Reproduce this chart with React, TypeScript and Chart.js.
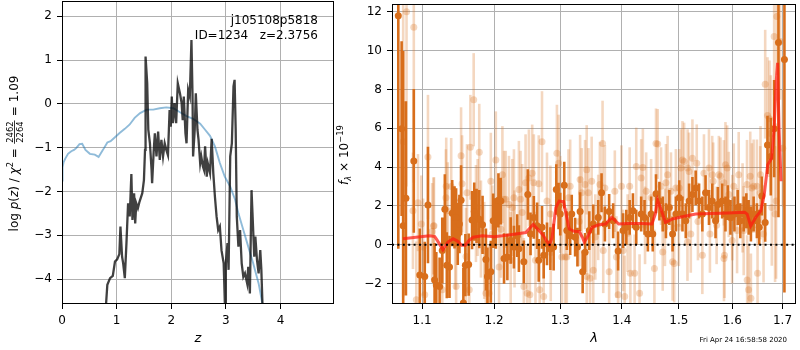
import React, { useEffect, useRef } from 'react';
import { Chart, registerables } from 'chart.js';

Chart.register(...registerables);

const FONT = "'DejaVu Sans', sans-serif";

// ---------------- left panel: log p(z) ----------------
const Z_PZ = [0.77, 0.806, 0.83, 0.88, 0.93, 0.97, 1.01, 1.05, 1.07, 1.10, 1.12, 1.15, 1.18, 1.21, 1.24, 1.27, 1.29, 1.32, 1.34, 1.36, 1.39, 1.42, 1.47, 1.50, 1.52, 1.53, 1.56, 1.58, 1.61, 1.64, 1.65, 1.68, 1.70, 1.73, 1.76, 1.79, 1.82, 1.85, 1.88, 1.91, 1.94, 1.97, 1.99, 2.01, 2.03, 2.06, 2.09, 2.12, 2.16, 2.19, 2.21, 2.23, 2.26, 2.28, 2.31, 2.34, 2.37, 2.39, 2.40, 2.43, 2.45, 2.48, 2.50, 2.53, 2.55, 2.58, 2.60, 2.62, 2.65, 2.67, 2.71, 2.74, 2.77, 2.80, 2.83, 2.86, 2.89, 2.92, 2.96, 2.99, 3.00, 3.03, 3.05, 3.08, 3.11, 3.14, 3.16, 3.18, 3.20, 3.23, 3.26, 3.29, 3.32, 3.35, 3.39, 3.41, 3.44, 3.47, 3.49, 3.52, 3.54, 3.57, 3.60, 3.63, 3.65, 3.67, 3.69];
const LOG_PZ = [-5.2, -4.58, -4.13, -3.98, -3.93, -3.60, -3.55, -3.43, -2.80, -3.49, -3.64, -3.98, -3.18, -2.27, -2.57, -1.60, -2.65, -2.04, -2.73, -2.27, -2.38, -2.23, -2.04, -1.74, -1.05, 1.08, 0.47, -0.59, -0.90, -1.51, -1.81, -1.05, -0.67, -1.20, -0.63, -1.28, -0.82, -1.20, -0.90, -1.05, -1.17, -0.14, -0.52, 0.17, -0.44, 0.02, -0.44, 0.47, 0.24, 0.02, -0.37, 0.17, -0.67, -0.90, 0.32, 0.17, 1.46, 0.17, -1.20, -0.59, 0.24, -0.59, -0.82, -1.36, -1.20, -1.43, -1.51, -0.97, -1.66, -1.36, -1.58, -0.80, -1.58, -2.12, -2.57, -2.88, -2.80, -3.34, -3.64, -4.9, -3.64, -3.18, -3.79, -1.20, -0.90, 0.40, 0.55, -0.59, -2.57, -3.26, -2.88, -3.64, -3.95, -3.87, -4.10, -3.72, -4.33, -1.97, -2.57, -3.49, -3.03, -3.56, -3.87, -3.34, -3.79, -4.57, -5.2];

const Z_PRIOR = [0.0, 0.01, 0.03, 0.06, 0.11, 0.17, 0.22, 0.26, 0.32, 0.37, 0.43, 0.51, 0.60, 0.67, 0.75, 0.83, 0.89, 0.97, 1.06, 1.15, 1.24, 1.33, 1.43, 1.55, 1.67, 1.79, 1.91, 2.04, 2.16, 2.28, 2.40, 2.53, 2.62, 2.71, 2.80, 2.89, 2.98, 3.08, 3.17, 3.23, 3.32, 3.41, 3.50, 3.60, 3.67, 3.70];
const LOG_PRIOR = [-1.75, -1.45, -1.33, -1.25, -1.14, -1.08, -1.05, -1.01, -0.92, -0.91, -1.05, -1.14, -1.16, -1.21, -1.05, -0.88, -0.85, -0.76, -0.66, -0.57, -0.47, -0.32, -0.21, -0.13, -0.13, -0.10, -0.08, -0.10, -0.19, -0.28, -0.34, -0.45, -0.59, -0.73, -0.97, -1.35, -1.66, -1.89, -2.19, -2.50, -2.88, -3.26, -3.64, -4.10, -4.57, -4.85];

const PZ_X_TICKS = [0, 1, 2, 3, 4];
const PZ_Y_TICKS = [-4, -3, -2, -1, 0, 1, 2];
const PZ_X_RANGE = [0, 4.98];
const PZ_Y_RANGE = [-4.57, 2.35];

const OBJ_NAME = 'j105108p5818';
const OBJ_INFO = 'ID=1234   z=2.3756';
const CHI2_NUM = '2462';
const CHI2_DEN = '2264';
const CHI2_RED = '1.09';

// ---------------- right panel: spectrum ----------------
const WAVE_OBS = [1.0689, 1.0732, 1.0752, 1.0788, 1.0891, 1.0970, 1.1036, 1.1079, 1.1168, 1.1191, 1.1236, 1.1272, 1.1307, 1.1334, 1.1371, 1.1408, 1.1440, 1.1462, 1.1485, 1.1508, 1.1531, 1.1563, 1.1591, 1.1637, 1.1685, 1.1716, 1.1749, 1.1787, 1.1834, 1.1882, 1.1904, 1.1953, 1.1987, 1.2025, 1.2063, 1.2098, 1.2145, 1.2194, 1.2243, 1.2291, 1.2340, 1.2365, 1.2439, 1.2499, 1.2540, 1.2590, 1.2640, 1.2665, 1.2715, 1.2741, 1.2792, 1.2844, 1.2895, 1.2936, 1.2972, 1.2998, 1.3061, 1.3102, 1.3155, 1.3180, 1.3234, 1.3271, 1.3314, 1.3355, 1.3394, 1.3462, 1.3527, 1.3608, 1.3663, 1.3718, 1.3789, 1.3856, 1.3939, 1.4023, 1.4078, 1.4135, 1.4191, 1.4248, 1.4333, 1.4391, 1.4449, 1.4506, 1.4535, 1.4592, 1.4652, 1.4711, 1.4768, 1.4829, 1.4887, 1.4946, 1.5007, 1.5066, 1.5126, 1.5187, 1.5248, 1.5308, 1.5371, 1.5432, 1.5492, 1.5556, 1.5617, 1.5680, 1.5724, 1.5806, 1.5869, 1.5914, 1.5965, 1.6042, 1.6106, 1.6156, 1.6222, 1.6274, 1.6319, 1.6364, 1.6418, 1.6483, 1.6529, 1.6582, 1.6649, 1.6695, 1.6762, 1.6830, 1.6918, 1.7040];
const FLUX_OBS = [11.8, 5.98, 0.98, 2.39, 4.32, -1.56, -1.64, 2.05, -1.81, -2.07, -2.15, -0.29, 1.83, -1.05, -1.14, 1.63, 1.41, 1.41, 0.56, 1.07, 2.29, -3.0, -1.05, -1.02, 1.27, 1.71, 1.49, 1.32, 1.03, -0.76, -1.64, -1.39, 1.24, 1.10, 2.29, 2.25, -0.71, -0.63, 0.22, -0.12, 0.47, -0.20, -0.88, 2.59, 0.56, 1.41, 0.98, -0.80, 0.90, -0.54, 0.05, -0.20, -0.12, 2.85, 2.00, 1.58, 3.07, 0.73, 0.47, 1.58, 0.39, -0.12, 1.71, -1.39, -0.39, 0.73, 1.07, 1.41, 2.68, 1.07, 1.71, 1.24, -0.32, 0.73, 0.90, 1.41, 1.75, 0.90, 1.58, 1.41, 0.56, 1.58, 0.56, 2.63, 2.25, 1.58, 1.24, 1.92, 0.56, 1.58, 2.42, 1.58, 1.24, 2.25, 2.59, 2.93, 2.25, 1.58, 2.68, 1.92, 2.25, 1.24, 2.08, 2.25, 1.58, 2.17, 1.41, 1.58, 1.92, 1.24, 1.58, 1.75, 1.41, 1.07, 1.58, 1.24, 0.90, 2.51, 1.15, 5.14, 4.54, 5.98, 10.42, 9.54];
const ERR_OBS = [12, 4.5, 9, 5, 3.7, 2.4, 1.8, 3.0, 1.9, 1.7, 1.5, 1.7, 1.8, 1.7, 1.6, 1.7, 1.6, 1.5, 1.6, 1.5, 1.8, 1.8, 1.6, 1.6, 1.5, 1.5, 1.4, 1.5, 1.5, 1.6, 1.5, 1.6, 1.4, 1.3, 1.4, 1.2, 1.3, 1.2, 1.2, 1.1, 1.1, 1.2, 1.1, 1.3, 1.1, 1.1, 1.2, 1.1, 1.1, 1.2, 1.1, 1.1, 1.2, 1.3, 1.2, 1.1, 1.2, 1.0, 1.0, 1.0, 1.0, 1.0, 1.0, 1.1, 1.0, 1.0, 1.0, 0.9, 1.0, 0.9, 0.9, 0.9, 1.0, 0.9, 0.9, 0.9, 0.9, 0.9, 0.9, 0.9, 0.9, 0.9, 0.9, 1.0, 1.0, 0.9, 0.9, 0.9, 0.9, 0.9, 0.9, 0.9, 0.9, 0.9, 0.9, 0.9, 0.9, 0.9, 0.9, 0.9, 0.9, 0.9, 0.9, 0.9, 0.9, 0.9, 0.9, 0.9, 0.9, 0.9, 0.9, 0.9, 0.9, 0.9, 0.9, 0.9, 0.9, 1.0, 1.0, 1.5, 2.0, 2.5, 9, 12];

const WAVE_RAW = [1.0752, 1.0796, 1.0880, 1.0891, 1.0924, 1.0946, 1.0990, 1.1014, 1.1036, 1.1079, 1.1135, 1.1153, 1.1160, 1.1272, 1.1322, 1.1326, 1.1346, 1.1394, 1.1450, 1.1462, 1.1531, 1.1545, 1.1600, 1.1614, 1.1646, 1.1661, 1.1708, 1.1740, 1.1764, 1.1787, 1.1811, 1.1858, 1.1882, 1.1928, 1.1953, 1.1975, 1.2025, 1.2072, 1.2100, 1.2121, 1.2145, 1.2170, 1.2218, 1.2243, 1.2267, 1.2291, 1.2300, 1.2365, 1.2390, 1.2414, 1.2439, 1.2465, 1.2489, 1.2515, 1.2530, 1.2565, 1.2590, 1.2615, 1.2665, 1.2680, 1.2715, 1.2741, 1.2792, 1.2844, 1.2850, 1.2946, 1.2972, 1.2998, 1.3024, 1.3075, 1.3102, 1.3128, 1.3155, 1.3300, 1.3314, 1.3339, 1.3394, 1.3420, 1.3421, 1.3448, 1.3475, 1.3501, 1.3527, 1.3560, 1.3608, 1.3636, 1.3680, 1.3691, 1.3718, 1.3789, 1.3884, 1.3911, 1.3939, 1.3995, 1.4023, 1.4050, 1.4100, 1.4135, 1.4147, 1.4220, 1.4248, 1.4305, 1.4333, 1.4362, 1.4400, 1.4420, 1.4506, 1.4564, 1.4592, 1.4622, 1.4681, 1.4711, 1.4750, 1.4768, 1.4798, 1.4858, 1.4887, 1.4916, 1.4946, 1.5000, 1.5007, 1.5037, 1.5066, 1.5096, 1.5157, 1.5160, 1.5187, 1.5218, 1.5248, 1.5328, 1.5350, 1.5432, 1.5462, 1.5556, 1.5574, 1.5617, 1.5636, 1.5700, 1.5743, 1.5774, 1.5838, 1.5840, 1.5850, 1.5869, 1.5901, 1.5933, 1.5997, 1.6000, 1.6029, 1.6093, 1.6125, 1.6200, 1.6222, 1.6287, 1.6290, 1.6319, 1.6351, 1.6364, 1.6384, 1.6418, 1.6483, 1.6496, 1.6549, 1.6555, 1.6616, 1.6649, 1.6695, 1.6735, 1.6762, 1.6783, 1.6830, 1.6849, 1.6870, 1.6884, 1.6952, 1.7006];
const FLUX_RAW = [5.3, 12.0, 1.75, 11.2, -2.83, 2.17, 1.07, -0.12, -2.58, 4.52, 0.68, 0.97, 0.98, -2.32, 2.42, 3.02, 1.75, 3.0, 0.2, -2.15, 4.58, 3.14, -0.6, 2.68, -2.32, 5.02, 7.47, 1.61, 1.92, 4.76, 0.81, -0.29, -2.49, -2.49, 3.27, 0.56, 4.37, -1.14, 0.8, 3.61, 2.34, 2.34, 2.08, -0.80, 1.92, 2.42, 0.3, 2.85, 2.34, 1.66, -2.15, 3.19, -2.49, 3.44, -2.58, 3.69, 3.19, -0.80, 3.14, -2.32, 5.31, -2.66, 2.25, 1.58, -0.4, 4.71, 4.20, 2.08, -0.63, -0.63, -0.63, 2.42, 3.02, 1.2, 3.36, 2.68, 3.10, 3.86, -1.64, 2.68, -1.73, 3.27, -1.31, 0.4, 1.41, 3.10, 5.22, -0.29, 2.93, -1.39, 2.76, -0.63, -2.58, 3.02, -0.29, -2.66, 0.6, 3.02, -1.47, -1.47, 4.03, -2.49, 3.44, 3.98, 1.0, 2.76, 2.42, -1.22, 5.22, 5.19, 3.02, -0.37, 0.9, 3.19, 3.61, 2.76, -0.88, -0.97, 2.93, 0.9, 2.93, 3.95, 4.37, 4.29, 0.14, 3.95, 3.78, 0.56, 4.46, 4.20, 1.2, -0.54, 3.69, 3.95, 0.56, 3.61, 3.27, 1.0, 3.61, 3.53, 3.19, -0.71, -0.54, 4.12, 3.95, 2.59, 0.22, 1.4, 3.02, 0.73, 3.61, 1.9, 0.73, 3.10, -1.81, -2.32, 3.53, -2.75, 2.93, 3.02, 3.02, -1.47, 2.68, 3.61, 0.56, 8.27, 6.66, 6.49, 5.73, 1.92, 10.73, 1.58, 2.25, 11.75, 10.47, 4.97];
const ERR_RAW = [8, 9, 3, 8, 3, 2.5, 2.5, 2.5, 2.5, 3.2, 2.5, 2.5, 2.5, 2.5, 2.5, 2.5, 2.5, 2.5, 2.5, 2.5, 2.5, 2.5, 2.5, 2.5, 2.5, 2.7, 2.4, 2.5, 2.5, 2.5, 2.5, 2.5, 2.5, 2.5, 2.5, 2.5, 2.5, 2.5, 2.5, 2.5, 2.5, 2.5, 2.5, 2.5, 2.5, 2.5, 2.5, 2.5, 2.5, 2.5, 2.5, 2.5, 2.5, 2.5, 2.5, 2.5, 2.5, 2.5, 2.5, 2.5, 2.6, 2.5, 2.5, 2.5, 2.5, 2.5, 2.5, 2.5, 2.5, 2.5, 2.5, 2.5, 2.4, 2.3, 2.3, 2.3, 2.3, 2.3, 2.3, 2.3, 2.3, 2.3, 2.2, 2.2, 2.2, 2.2, 2.2, 2.2, 2.2, 2.2, 2.1, 2.1, 2.1, 2.1, 2.1, 2.1, 2.0, 2.0, 2.0, 2.0, 2.0, 2.0, 2.0, 2.0, 2.0, 2.0, 2.0, 2.0, 1.8, 1.8, 2.0, 2.0, 2.0, 2.0, 2.0, 2.0, 2.0, 2.0, 2.0, 2.0, 2.0, 2.0, 2.0, 2.0, 2.0, 2.0, 2.0, 2.0, 2.0, 2.0, 2.0, 2.0, 2.0, 2.0, 2.0, 2.0, 2.0, 2.0, 2.0, 2.0, 2.2, 2.2, 2.2, 2.2, 2.2, 2.2, 2.2, 2.2, 2.2, 2.2, 2.2, 2.3, 2.3, 2.3, 2.3, 2.3, 2.3, 2.3, 2.3, 2.4, 2.4, 2.4, 2.4, 2.5, 2.5, 2.8, 3, 3, 3, 3, 3, 3.5, 4, 3, 3, 3];

const WAVE_MODEL = [1.075, 1.092, 1.11, 1.117, 1.12, 1.128, 1.135, 1.142, 1.148, 1.154, 1.159, 1.164, 1.17, 1.183, 1.20, 1.212, 1.232, 1.247, 1.252, 1.258, 1.265, 1.273, 1.278, 1.283, 1.287, 1.293, 1.298, 1.305, 1.309, 1.314, 1.322, 1.33, 1.335, 1.338, 1.343, 1.351, 1.362, 1.373, 1.378, 1.383, 1.389, 1.395, 1.411, 1.434, 1.452, 1.458, 1.462, 1.468, 1.476, 1.488, 1.506, 1.531, 1.561, 1.592, 1.624, 1.629, 1.636, 1.646, 1.656, 1.663, 1.670, 1.678, 1.683, 1.687, 1.690, 1.693, 1.697];
const FLUX_MODEL = [0.31, 0.39, 0.46, 0.42, 0.25, -0.25, 0.14, 0.31, 0.19, -0.03, -0.03, 0.22, 0.39, 0.46, 0.41, 0.46, 0.56, 0.63, 0.83, 1.05, 0.80, 0.51, 0.22, 0.0, 0.36, 1.92, 2.25, 2.22, 1.58, 0.81, 0.69, 0.68, 0.39, 0.14, 0.39, 0.90, 1.03, 1.07, 1.24, 1.41, 1.24, 1.07, 1.10, 1.10, 1.07, 1.58, 2.29, 1.83, 1.15, 1.32, 1.44, 1.58, 1.61, 1.64, 1.68, 1.58, 0.97, 1.41, 1.75, 2.59, 4.12, 4.46, 5.98, 8.36, 9.37, 5.98, 3.27];

const SPEC_X_TICKS = [1.1, 1.2, 1.3, 1.4, 1.5, 1.6, 1.7];
const SPEC_Y_TICKS = [-2, 0, 2, 4, 6, 8, 10, 12];
const SPEC_X_RANGE = [1.0608, 1.728];
const SPEC_Y_RANGE = [-3.05, 12.4];
const TIMESTAMP = 'Fri Apr 24 16:58:58 2020';

// ---------------- styles ----------------
const GRID = '#b0b0b0';
const PZ_COLOR = 'rgba(0,0,0,0.75)';
const PRIOR_COLOR = 'rgba(31,119,180,0.5)';
const DARK_ORANGE = 'rgb(216,110,27)';
const LIGHT_ORANGE = 'rgba(216,110,27,0.28)';
const MODEL_RED = 'rgba(255,25,15,0.72)';

type Pt = { x: number; y: number | null };
const zip = (xs: number[], ys: number[]): Pt[] => xs.map((x, i) => ({ x, y: ys[i] }));
const errSegments = (xs: number[], ys: number[], es: number[]): Pt[] => {
  const out: Pt[] = [];
  xs.forEach((x, i) => {
    out.push({ x, y: ys[i] - es[i] }, { x, y: ys[i] + es[i] }, { x, y: null });
  });
  return out;
};
const minusFmt = (v: any) => {
  const n = Number(v);
  return n < 0 ? '\u2212' + String(Math.abs(n)) : String(n);
};

type Run = { t?: string; italic?: boolean; scale?: number; dy?: number; num?: string; den?: string };
const fontStr = (size: number, italic?: boolean) => `${italic ? 'italic ' : ''}${size}px ${FONT}`;

function drawVerticalRich(ctx: CanvasRenderingContext2D, runs: Run[], bx: number, cy: number, base: number) {
  ctx.save();
  ctx.translate(bx, cy);
  ctx.rotate(-Math.PI / 2);
  ctx.fillStyle = '#000';
  ctx.textBaseline = 'alphabetic';
  const small = base * 0.7;
  const widths = runs.map((r) => {
    if (r.num !== undefined) {
      ctx.font = fontStr(small);
      return Math.max(ctx.measureText(r.num).width, ctx.measureText(r.den || '').width) + 3;
    }
    ctx.font = fontStr(base * (r.scale || 1), r.italic);
    return ctx.measureText(r.t || '').width;
  });
  const total = widths.reduce((a, b) => a + b, 0);
  let x = -total / 2;
  runs.forEach((r, i) => {
    const w = widths[i];
    if (r.num !== undefined) {
      ctx.font = fontStr(small);
      ctx.textAlign = 'center';
      ctx.fillText(r.num, x + w / 2, -base * 0.4);
      ctx.fillText(r.den || '', x + w / 2, base * 0.42);
      ctx.fillRect(x + 0.5, -base * 0.29 - 0.4, w - 1, 0.8);
    } else {
      ctx.font = fontStr(base * (r.scale || 1), r.italic);
      ctx.textAlign = 'left';
      ctx.fillText(r.t || '', x, r.dy || 0);
    }
    x += w;
  });
  ctx.restore();
}

function drawFrame(chart: any) {
  const { ctx, chartArea } = chart;
  const { left, top, right, bottom } = chartArea;
  ctx.save();
  ctx.strokeStyle = '#000';
  ctx.lineWidth = 1;
  ctx.strokeRect(Math.round(left) + 0.5, Math.round(top) + 0.5, Math.round(right - left) - 1, Math.round(bottom - top) - 1);
  ctx.restore();
}

const leftDecor = {
  id: 'leftDecor',
  afterDraw(chart: any) {
    drawFrame(chart);
    const { ctx, chartArea } = chart;
    drawVerticalRich(
      ctx,
      [
        { t: 'log ' },
        { t: 'p', italic: true },
        { t: '(' },
        { t: 'z', italic: true },
        { t: ') / ' },
        { t: '\u03c7', italic: true },
        { t: '2', scale: 0.7, dy: -5 },
        { t: ' = ' },
        { num: CHI2_NUM, den: CHI2_DEN },
        { t: ' = ' + CHI2_RED },
      ],
      18,
      (chartArea.top + chartArea.bottom) / 2 + 1,
      12
    );
    ctx.save();
    ctx.fillStyle = '#000';
    ctx.font = fontStr(12);
    ctx.textAlign = 'right';
    ctx.textBaseline = 'alphabetic';
    ctx.fillText(OBJ_NAME, 318, 24);
    ctx.fillText(OBJ_INFO, 318, 38.5);
    ctx.restore();
  },
};

const rightDecor = {
  id: 'rightDecor',
  afterDraw(chart: any) {
    drawFrame(chart);
    const { ctx, chartArea } = chart;
    drawVerticalRich(
      ctx,
      [
        { t: 'f', italic: true },
        { t: '\u03bb', italic: true, scale: 0.7, dy: 3 },
        { t: ' \u00d7 10' },
        { t: '\u221219', scale: 0.7, dy: -5 },
      ],
      12,
      (chartArea.top + chartArea.bottom) / 2 + 1,
      12
    );
    ctx.save();
    ctx.fillStyle = '#000';
    ctx.font = fontStr(7);
    ctx.textAlign = 'right';
    ctx.textBaseline = 'alphabetic';
    ctx.fillText(TIMESTAMP, 451, 342);
    ctx.restore();
  },
};

const tickFont = { family: FONT, size: 12 };
const titleFont = { family: FONT, size: 13, style: 'italic' as const };

function baseAxis(extra: any) {
  return {
    ticks: { font: tickFont, color: '#000', padding: 5, autoSkip: false, maxRotation: 0, minRotation: 0 },
    grid: { color: GRID, lineWidth: 1, tickLength: 5, tickColor: '#000', tickWidth: 1 },
    border: { display: false },
    ...extra,
  };
}

function LeftPanel() {
  const ref = useRef<HTMLCanvasElement>(null);
  useEffect(() => {
    const chart = new Chart(ref.current as HTMLCanvasElement, {
      type: 'scatter',
      data: {
        datasets: [
          { data: zip(Z_PZ, LOG_PZ), showLine: true, borderColor: PZ_COLOR, borderWidth: 2.3, pointRadius: 0, order: 1, clip: 0 } as any,
          { data: zip(Z_PRIOR, LOG_PRIOR), showLine: true, borderColor: PRIOR_COLOR, borderWidth: 1.9, pointRadius: 0, order: 2, clip: 0 } as any,
        ],
      },
      options: {
        responsive: false,
        animation: false,
        devicePixelRatio: 1,
        events: [],
        layout: { padding: { left: 0, right: 2, top: 1, bottom: 0 } },
        plugins: { legend: { display: false }, tooltip: { enabled: false } },
        scales: {
          x: baseAxis({
            type: 'linear',
            min: PZ_X_RANGE[0],
            max: PZ_X_RANGE[1],
            afterBuildTicks: (s: any) => { s.ticks = PZ_X_TICKS.map((v) => ({ value: v })); },
            afterFit: (s: any) => { s.height = 46; s.paddingLeft = 0; s.paddingRight = 0; },
            ticks: { font: tickFont, color: '#000', padding: 5, autoSkip: false, maxRotation: 0, minRotation: 0, callback: minusFmt },
            title: { display: true, text: 'z', font: titleFont, color: '#000', padding: { top: 0, bottom: 4 } },
          }),
          y: baseAxis({
            type: 'linear',
            min: PZ_Y_RANGE[0],
            max: PZ_Y_RANGE[1],
            afterBuildTicks: (s: any) => { s.ticks = PZ_Y_TICKS.map((v) => ({ value: v })); },
            afterFit: (s: any) => { s.width = 62; s.paddingTop = 0; s.paddingBottom = 0; },
            ticks: { font: tickFont, color: '#000', padding: 5, autoSkip: false, callback: minusFmt },
          }),
        },
      } as any,
      plugins: [leftDecor],
    });
    return () => chart.destroy();
  }, []);
  return <canvas ref={ref} width={336} height={350} style={{ position: 'absolute', left: 0, top: 0, width: 336, height: 350 }} />;
}

function RightPanel() {
  const ref = useRef<HTMLCanvasElement>(null);
  useEffect(() => {
    const chart = new Chart(ref.current as HTMLCanvasElement, {
      type: 'scatter',
      data: {
        datasets: [
          {
            data: errSegments(WAVE_RAW, FLUX_RAW, ERR_RAW), showLine: true, spanGaps: false, borderColor: LIGHT_ORANGE,
            borderWidth: 2.6, borderCapStyle: 'butt', pointRadius: 0, order: 7, clip: 0,
            segment: { borderColor: () => LIGHT_ORANGE },
          } as any,
          { data: zip(WAVE_RAW, FLUX_RAW), pointRadius: 3.5, pointBorderWidth: 0, backgroundColor: LIGHT_ORANGE, borderColor: 'rgba(0,0,0,0)', order: 6, clip: 0 } as any,
          {
            data: errSegments(WAVE_OBS, FLUX_OBS, ERR_OBS), showLine: true, spanGaps: false, borderColor: DARK_ORANGE,
            borderWidth: 2.6, borderCapStyle: 'butt', pointRadius: 0, order: 5, clip: 0,
          } as any,
          { data: zip(WAVE_OBS, FLUX_OBS), pointRadius: 3.5, pointBorderWidth: 0, backgroundColor: DARK_ORANGE, borderColor: 'rgba(0,0,0,0)', order: 4, clip: 0 } as any,
          { data: zip(WAVE_MODEL, FLUX_MODEL), showLine: true, borderColor: MODEL_RED, borderWidth: 3, pointRadius: 0, order: 2, clip: 0 } as any,
          {
            data: [{ x: SPEC_X_RANGE[0], y: 0 }, { x: SPEC_X_RANGE[1], y: 0 }], showLine: true, borderColor: '#000',
            borderWidth: 2, borderDash: [2, 3.4], borderCapStyle: 'butt', pointRadius: 0, order: 1, clip: 0,
          } as any,
        ],
      },
      options: {
        responsive: false,
        animation: false,
        devicePixelRatio: 1,
        events: [],
        layout: { padding: { left: 0, right: 1, top: 1, bottom: 0 } },
        plugins: { legend: { display: false }, tooltip: { enabled: false } },
        scales: {
          x: baseAxis({
            type: 'logarithmic',
            min: SPEC_X_RANGE[0],
            max: SPEC_X_RANGE[1],
            afterBuildTicks: (s: any) => { s.ticks = SPEC_X_TICKS.map((v) => ({ value: v })); },
            afterFit: (s: any) => { s.height = 46; s.paddingLeft = 0; s.paddingRight = 0; },
            ticks: { font: tickFont, color: '#000', padding: 5, autoSkip: false, maxRotation: 0, minRotation: 0, callback: (v: any) => Number(v).toFixed(1) },
            title: { display: true, text: '\u03bb', font: titleFont, color: '#000', padding: { top: 0, bottom: 4 } },
          }),
          y: baseAxis({
            type: 'linear',
            min: SPEC_Y_RANGE[0],
            max: SPEC_Y_RANGE[1],
            afterBuildTicks: (s: any) => { s.ticks = SPEC_Y_TICKS.map((v) => ({ value: v })); },
            afterFit: (s: any) => { s.width = 56; s.paddingTop = 0; s.paddingBottom = 0; },
            ticks: { font: tickFont, color: '#000', padding: 5, autoSkip: false, callback: minusFmt },
          }),
        },
      } as any,
      plugins: [rightDecor],
    });
    return () => chart.destroy();
  }, []);
  return <canvas ref={ref} width={464} height={350} style={{ position: 'absolute', left: 336, top: 0, width: 464, height: 350 }} />;
}

export default function App() {
  return (
    <div style={{ position: 'absolute', left: 0, top: 0, width: 800, height: 350, background: '#fff', overflow: 'hidden' }}>
      <LeftPanel />
      <RightPanel />
    </div>
  );
}
